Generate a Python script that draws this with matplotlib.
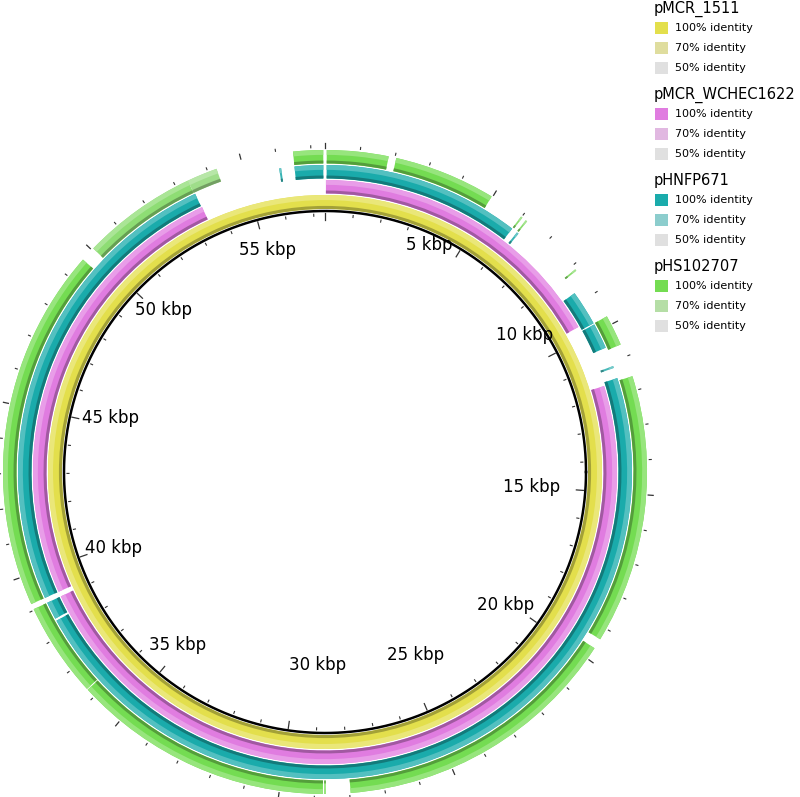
import numpy as np
import matplotlib
matplotlib.use("Agg")
import matplotlib.pyplot as plt
from matplotlib.patches import Wedge, Rectangle
from matplotlib.colors import to_rgb

# ---------------- data ----------------
GENOME_KBP = 57.4
ring_names = ["pMCR_1511", "pMCR_WCHEC1622", "pHNFP671", "pHS102707"]
color_100 = ["#e3df4c", "#e07ce0", "#1aabab", "#74dc52"]
color_70 = ["#dfdd9e", "#e1b8e1", "#8ccdcd", "#b5dea6"]
color_50 = "#e0e0e0"
legend_levels = ["100% identity", "70% identity", "50% identity"]

# BLAST hits per ring (kbp start, kbp end, % identity)
pmcr1511_start = [0.0]
pmcr1511_end = [57.4]
pmcr1511_ident = [100]

wchec_start = [0.03, 11.62, 39.19]
wchec_end = [9.60, 39.03, 53.43]
wchec_ident = [100, 100, 100]

hnfp_start = [56.49, 0.05, 6.17, 8.67, 9.77, 11.13, 11.51, 38.50, 39.19, 56.03]
hnfp_end = [57.35, 5.99, 6.23, 9.73, 10.54, 11.19, 38.43, 39.03, 53.41, 56.09]
hnfp_ident = [100, 100, 92, 100, 100, 88, 100, 100, 100, 92]

hs_start = [56.49, 0.05, 2.04, 5.98, 6.15, 8.13, 9.74, 11.59, 19.64, 28.68, 28.76,
            36.30, 39.19, 50.06, 53.38]
hs_end = [57.35, 1.82, 4.97, 6.03, 6.20, 8.18, 10.63, 19.34, 27.97, 28.72, 36.27,
          39.03, 49.63, 53.38, 54.26]
hs_ident = [100, 100, 100, 90, 90, 90, 100, 100, 100, 100, 100,
            100, 100, 88, 80]

ring_starts = [pmcr1511_start, wchec_start, hnfp_start, hs_start]
ring_ends = [pmcr1511_end, wchec_end, hnfp_end, hs_end]
ring_idents = [pmcr1511_ident, wchec_ident, hnfp_ident, hs_ident]

label_kbp = [5, 10, 15, 20, 25, 30, 35, 40, 45, 50, 55]

# ---------------- layout ----------------
W, H = 800, 797
fig = plt.figure(figsize=(W / 100, H / 100), dpi=100)
ax = fig.add_axes([0, 0, 1, 1])
ax.set_xlim(0, W)
ax.set_ylim(H, 0)
ax.set_aspect("equal")
ax.axis("off")

CX, CY = 325.0, 472.0
R_BACK = 261.0
ring_in = [263.0, 278.5, 293.5, 308.5]
ring_out = [277.0, 292.0, 307.0, 322.0]

# label placement (polar offset from each tick: angle shift in deg, radius px)
label_dang = [-6.6, -7.2, 0.0, 0.9, -3.0, -5.8, 0.9, -0.6, 1.9, 1.4, 0.6]
label_rad = [250, 241.6, 207.5, 224.6, 204, 193, 227, 225, 221.7, 229, 229]


def mix(c, other, f):
    c = np.array(to_rgb(c))
    o = np.array(to_rgb(other))
    return tuple(c * (1 - f) + o * f)


def ident_color(i, ident):
    if ident >= 70:
        f = (100 - ident) / 30.0
        return mix(color_100[i], color_70[i], f)
    f = (70 - ident) / 20.0
    return mix(color_70[i], color_50, min(f, 1))


def ang(kbp):
    return 360.0 * kbp / GENOME_KBP - 90.0


def wedge(r_out, a1, a2, width, color):
    ax.add_patch(Wedge((CX, CY), r_out, a1, a2, width=width, facecolor=color,
                       edgecolor="none", linewidth=0))


for i in range(4):
    rin, rout = ring_in[i], ring_out[i]
    w = rout - rin
    for s, e, idn in zip(ring_starts[i], ring_ends[i], ring_idents[i]):
        a1, a2 = ang(s), ang(e)
        c = ident_color(i, idn)
        wedge(rout, a1, a2, w, c)
        wedge(rin + 0.22 * w, a1, a2, 0.22 * w, mix(c, "black", 0.28))
        wedge(rout, a1, a2, 0.36 * w, mix(c, "white", 0.25))

# backbone circle
t = np.linspace(0, 2 * np.pi, 720)
ax.plot(CX + R_BACK * np.cos(t), CY + R_BACK * np.sin(t), color="black", lw=1.8)

# ticks
for k in range(0, int(GENOME_KBP) + 1):
    th = np.deg2rad(360.0 * k / GENOME_KBP)
    ux, uy = np.sin(th), -np.cos(th)
    major = (k % 5 == 0)
    r1, r2 = (252.0, 259.0) if major else (256.0, 258.0)
    ax.plot([CX + r1 * ux, CX + r2 * ux], [CY + r1 * uy, CY + r2 * uy],
            color="#333333", lw=0.9 if major else 0.8)
    o1, o2 = (324.0, 329.0) if major else (324.5, 326.5)
    ax.plot([CX + o1 * ux, CX + o2 * ux], [CY + o1 * uy, CY + o2 * uy],
            color="#333333", lw=0.9 if major else 0.8)

# ruler labels
for k, da, rr in zip(label_kbp, label_dang, label_rad):
    th = np.deg2rad(360.0 * k / GENOME_KBP + da)
    px = CX + rr * np.sin(th)
    py = CY - rr * np.cos(th)
    ax.text(px, py, f"{k} kbp", fontsize=12, ha="center", va="center",
            family="DejaVu Sans")

# legend
LX = 655
for i, name in enumerate(ring_names):
    top = 12.5 + 86 * i
    ax.text(LX - 1, top, name, fontsize=10.5, ha="left", va="baseline",
            family="DejaVu Sans")
    cols = [color_100[i], color_70[i], color_50]
    for j, lab in enumerate(legend_levels):
        yc = top + 15.5 + 20 * j
        ax.add_patch(Rectangle((LX, yc - 6), 13, 12, facecolor=cols[j],
                               edgecolor="none"))
        ax.text(LX + 20, yc, lab, fontsize=8, ha="left", va="center",
                family="DejaVu Sans")

fig.savefig("out.png", dpi=100)
